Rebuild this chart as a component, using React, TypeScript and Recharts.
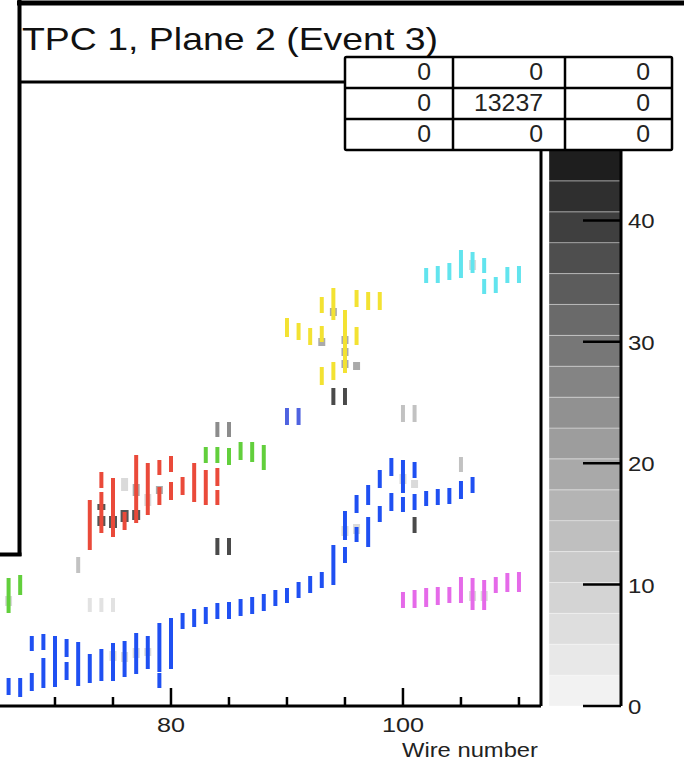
import React from "react";
import {
  ComposedChart,
  Scatter,
  ErrorBar,
  XAxis,
  YAxis,
  ReferenceLine,
  BarChart,
  Bar,
} from "recharts";

const FONT = '"Liberation Sans", Arial, Helvetica, sans-serif';

// hits: [wire, time start, time end] (time in ticks, bottom of view = 0)
const blueHits = [
  [66, 11, 28], [67, 9, 28], [68, 55, 70], [68, 15, 33], [69, 56, 72], [69, 18, 48],
  [70, 19, 70], [71, 49, 67], [71, 26, 44], [72, 20, 64], [73, 23, 52], [74, 25, 57],
  [75, 25, 63], [76, 29, 65], [77, 32, 73], [78, 37, 70], [79, 34, 83], [79, 18, 33],
  [80, 37, 88], [81, 77, 93], [82, 79, 97], [83, 82, 99], [84, 87, 103], [85, 87, 104],
  [86, 90, 107], [87, 92, 109], [88, 95, 112], [89, 100, 116], [90, 103, 118],
  [91, 108, 124], [92, 113, 130], [93, 118, 134], [94, 121, 161], [95, 166, 195],
  [95, 143, 159], [96, 193, 211], [96, 164, 179], [97, 201, 221], [97, 159, 189],
  [98, 218, 236], [98, 184, 200], [99, 230, 248], [99, 195, 213], [100, 213, 246],
  [100, 194, 209], [101, 228, 244], [101, 196, 212], [102, 200, 215], [103, 201, 217],
  [104, 202, 218], [105, 207, 225], [106, 213, 229],
];
const redHits = [
  [73, 156, 206], [74, 218, 234], [74, 173, 214], [75, 169, 228], [76, 176, 194],
  [77, 183, 251], [78, 191, 243], [79, 231, 246], [79, 201, 219], [80, 234, 250],
  [80, 206, 224], [81, 211, 229], [82, 204, 243], [83, 201, 236], [84, 220, 238],
  [84, 201, 216],
];
const greenHits = [
  [66, 93, 128], [67, 111, 131], [83, 243, 259], [84, 243, 259], [85, 241, 258],
  [86, 246, 264], [87, 244, 264], [88, 236, 261],
];
const slateHits = [[90, 281, 298], [91, 281, 298]];
const yellowHits = [
  [90, 369, 388], [91, 366, 383], [92, 361, 378], [93, 393, 409], [93, 364, 380],
  [93, 321, 339], [94, 386, 418], [94, 326, 344], [95, 333, 396], [96, 399, 416],
  [96, 361, 379], [97, 396, 414], [98, 396, 414],
];
const cyanHits = [
  [102, 423, 438], [103, 423, 440], [104, 426, 443], [105, 428, 456], [106, 433, 454],
  [107, 433, 448], [107, 412, 427], [108, 413, 429], [109, 423, 439], [110, 423, 440],
];
const magentaHits = [
  [100, 98, 114], [101, 98, 116], [102, 99, 118], [103, 101, 119], [104, 103, 119],
  [105, 103, 129], [106, 96, 128], [107, 96, 126], [108, 113, 129], [109, 114, 133],
  [110, 114, 134],
];
// unclustered hits
const grayDarkHits = [
  [84, 151, 168], [85, 151, 168], [94, 301, 318], [95, 301, 318], [101, 173, 189],
];
const grayMidHits = [[84, 269, 284], [85, 269, 284]];
const grayLightHits = [
  [72, 133, 149], [100, 284, 301], [101, 284, 301], [105, 234, 249],
];
const grayFaintHits = [[73, 94, 108], [74, 94, 108], [75, 94, 108]];
// charge cells under the clusters
const blobDark = [
  [74, 180, 190], [75, 178, 190], [76, 184, 196], [77, 186, 196], [74, 196, 202],
];
const blobMid = [
  [93, 360, 368], [95, 338, 346], [95, 350, 358], [95, 362, 370], [94, 390, 398],
  [96, 336, 344], [77, 210, 222], [79, 212, 220],
];
const blobLight = [
  [95, 170, 180], [96, 172, 182], [100, 222, 232], [101, 218, 226], [75, 45, 55],
  [76, 44, 54], [77, 48, 58], [78, 50, 58], [106, 436, 446], [106, 105, 115],
  [107, 105, 115], [66, 100, 110], [76, 215, 228], [78, 200, 212],
];

const wireTicks = [70, 75, 80, 85, 90, 95, 100, 105, 110];
const wireDomain = [65.26, 111.9];
const timeDomain = [0, 624];

// colour palette levels (charge)
const zLevels = [
  0, 2.54, 5.09, 7.63, 10.18, 12.72, 15.27, 17.81, 20.36, 22.9, 25.44, 27.99,
  30.53, 33.08, 35.62, 38.17, 40.71, 43.26, 45.8,
];
const zGrays = [242, 232, 222, 212, 202, 191, 180, 169, 157, 145, 132, 119, 106, 92, 78, 63, 47, 30];
const zTicks = [0, 10, 20, 30, 40];

const statsRows = [
  [0, 0, 0],
  [0, 13237, 0],
  [0, 0, 0],
];

const series = [
  { name: "blobLight", color: "#dadada", width: 7, hits: blobLight },
  { name: "blobMid", color: "#aaaaaa", width: 7, hits: blobMid },
  { name: "blobDark", color: "#555555", width: 8, hits: blobDark },
  { name: "faint", color: "#e2e2e2", width: 4, hits: grayFaintHits },
  { name: "light", color: "#c2c2c2", width: 4, hits: grayLightHits },
  { name: "mid", color: "#8c8c8c", width: 4, hits: grayMidHits },
  { name: "dark", color: "#4a4a4a", width: 4, hits: grayDarkHits },
  { name: "blue", color: "#1f50f2", width: 4, hits: blueHits },
  { name: "red", color: "#ea4a3a", width: 4, hits: redHits },
  { name: "green", color: "#62cf3c", width: 4, hits: greenHits },
  { name: "slate", color: "#4f63e0", width: 4, hits: slateHits },
  { name: "yellow", color: "#f3e232", width: 4, hits: yellowHits },
  { name: "cyan", color: "#62e4ee", width: 4, hits: cyanHits },
  { name: "magenta", color: "#e56ae9", width: 4, hits: magentaHits },
];

const toPoints = (hits: number[][]) =>
  hits.map(([w, t0, t1]) => ({ wire: w, t: t0, err: [0, t1 - t0] }));

const NoDot = () => null;

const WireTick = (props: any) => {
  const { x, y, payload } = props;
  const v = payload.value;
  const major = v % 20 === 0;
  return (
    <g>
      <line x1={x} x2={x} y1={y} y2={y - (major ? 18 : 9)} stroke="#000" strokeWidth={2.5} />
      {major && (
        <text
          transform={`translate(${x},${y + 26}) scale(1.2,1)`}
          textAnchor="middle"
          fontSize={21}
          fontFamily={FONT}
          fill="#222"
        >
          {v}
        </text>
      )}
    </g>
  );
};

const ZTick = (props: any) => {
  const { x, y, payload } = props;
  return (
    <g>
      <line x1={x - 38} x2={x} y1={y} y2={y} stroke="#000" strokeWidth={2.5} />
      <text
        transform={`translate(${x + 7},${y + 8}) scale(1.2,1)`}
        fontSize={20}
        fontFamily={FONT}
        fill="#222"
      >
        {payload.value}
      </text>
    </g>
  );
};

const WireLabel = (props: any) => {
  const vb = props.viewBox;
  return (
    <text
      x={vb.x + vb.width - 3}
      y={vb.y + 51}
      textAnchor="end"
      fontSize={21}
      fontFamily={FONT}
      fill="#222"
      textLength={136}
      lengthAdjust="spacingAndGlyphs"
    >
      Wire number
    </text>
  );
};

function HitDisplay() {
  return (
    <ComposedChart
      width={684}
      height={764}
      margin={{ top: 82, right: 143, bottom: 18, left: 0 }}
    >
      <XAxis
        type="number"
        dataKey="wire"
        domain={wireDomain}
        allowDataOverflow
        ticks={wireTicks}
        interval={0}
        height={40}
        tickSize={0}
        tickMargin={0}
        tickLine={false}
        tick={<WireTick />}
        axisLine={{ stroke: "#000", strokeWidth: 3 }}
        label={<WireLabel />}
      />
      <YAxis type="number" dataKey="t" domain={timeDomain} allowDataOverflow hide width={0} />
      <ReferenceLine y={timeDomain[1]} stroke="#000" strokeWidth={3} ifOverflow="visible" />
      <ReferenceLine x={wireDomain[1]} stroke="#000" strokeWidth={3} ifOverflow="visible" />
      {series.map((s) => (
        <Scatter
          key={s.name}
          name={s.name}
          data={toPoints(s.hits)}
          shape={NoDot}
          isAnimationActive={false}
        >
          <ErrorBar
            dataKey="err"
            direction="y"
            width={0}
            stroke={s.color}
            strokeWidth={s.width}
            isAnimationActive={false}
          />
        </Scatter>
      ))}
    </ComposedChart>
  );
}

function ColorBar() {
  const row: Record<string, any> = { name: "z" };
  zGrays.forEach((_, i) => {
    row[`b${i}`] = +(zLevels[i + 1] - zLevels[i]).toFixed(3);
  });
  return (
    <BarChart
      width={135}
      height={764}
      data={[row]}
      margin={{ top: 150, right: 0, bottom: 58, left: 0 }}
      barCategoryGap={0}
      barGap={0}
    >
      <XAxis dataKey="name" hide />
      <YAxis
        orientation="right"
        type="number"
        domain={[zLevels[0], zLevels[zLevels.length - 1]]}
        ticks={zTicks}
        interval={0}
        width={63}
        tickSize={0}
        tickMargin={0}
        tickLine={false}
        tick={<ZTick />}
        axisLine={{ stroke: "#000", strokeWidth: 3 }}
      />
      {zGrays.map((g, i) => (
        <Bar
          key={i}
          dataKey={`b${i}`}
          stackId="z"
          fill={`rgb(${g},${g},${g})`}
          stroke="rgba(255,255,255,0.35)"
          strokeWidth={1}
          isAnimationActive={false}
        />
      ))}
    </BarChart>
  );
}

function Overlay() {
  const colX = [345, 453, 565, 672];
  const rowY = [57, 88, 119, 150];
  return (
    <svg width={684} height={764} style={{ position: "absolute", left: 0, top: 0 }}>
      {/* neighbouring pads */}
      <rect x={0} y={0} width={19} height={554} fill="#fff" />
      <line x1={19.5} x2={19.5} y1={0} y2={556} stroke="#000" strokeWidth={4} />
      <line x1={0} x2={21.5} y1={554.5} y2={554.5} stroke="#000" strokeWidth={4} />
      <line x1={17} x2={684} y1={3} y2={3} stroke="#000" strokeWidth={5} />
      <text
        x={22}
        y={50}
        fontSize={32}
        fontFamily={FONT}
        fill="#111"
        textLength={416}
        lengthAdjust="spacingAndGlyphs"
      >
        TPC 1, Plane 2 (Event 3)
      </text>
      {/* stats box */}
      <rect
        x={colX[0]}
        y={rowY[0]}
        width={colX[3] - colX[0]}
        height={rowY[3] - rowY[0]}
        fill="#fff"
        stroke="#000"
        strokeWidth={2.5}
        rx={1.5}
      />
      {rowY.slice(1, 3).map((y) => (
        <line key={y} x1={colX[0]} x2={colX[3]} y1={y} y2={y} stroke="#000" strokeWidth={2.5} />
      ))}
      {colX.slice(1, 3).map((x) => (
        <line key={x} x1={x} x2={x} y1={rowY[0]} y2={rowY[3]} stroke="#000" strokeWidth={2.5} />
      ))}
      {statsRows.map((r, i) =>
        r.map((v, j) => (
          <text
            key={`${i}-${j}`}
            transform={`translate(${colX[j + 1] - 22},${rowY[i] + 23}) scale(1.08,1)`}
            textAnchor="end"
            fontSize={23}
            fontFamily={FONT}
            fill="#222"
          >
            {v}
          </text>
        ))
      )}
    </svg>
  );
}

export default function App() {
  return (
    <div
      style={{
        position: "absolute",
        left: 0,
        top: 0,
        width: 684,
        height: 764,
        background: "#fff",
        overflow: "hidden",
      }}
    >
      <div style={{ position: "absolute", left: 0, top: 0 }}>
        <HitDisplay />
      </div>
      <div style={{ position: "absolute", left: 549, top: 0 }}>
        <ColorBar />
      </div>
      <Overlay />
    </div>
  );
}
